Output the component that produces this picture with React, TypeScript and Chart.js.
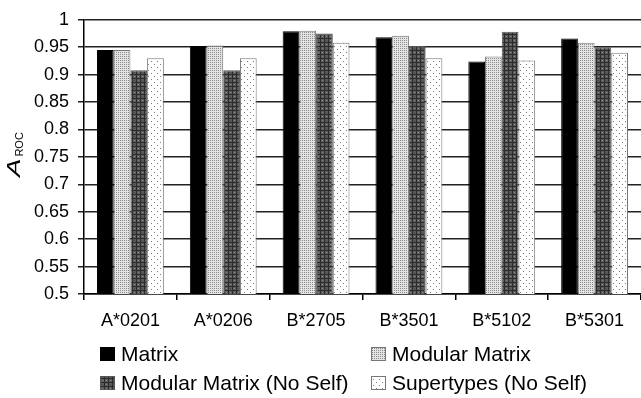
import React, { useEffect, useRef } from "react";
import { Chart, registerables } from "chart.js";

Chart.register(...registerables);

const categories = ["A*0201", "A*0206", "B*2705", "B*3501", "B*5102", "B*5301"];
const seriesLabels = ["Matrix", "Modular Matrix", "Modular Matrix (No Self)", "Supertypes (No Self)"];
const matrix = [0.945, 0.952, 0.979, 0.968, 0.924, 0.966];
const modularMatrix = [0.945, 0.953, 0.98, 0.971, 0.933, 0.958];
const modularNoSelf = [0.908, 0.908, 0.975, 0.952, 0.978, 0.95];
const supertypes = [0.93, 0.93, 0.958, 0.93, 0.926, 0.94];
const yMin = 0.5;
const yMax = 1;
const yStep = 0.05;

const FONT = '"Liberation Sans", Arial, Helvetica, sans-serif';

function makePattern(size: number, bg: string, pixels: [number, number, string][]) {
  const c = document.createElement("canvas");
  c.width = size;
  c.height = size;
  const g = c.getContext("2d")!;
  g.fillStyle = bg;
  g.fillRect(0, 0, size, size);
  pixels.forEach(([x, y, col]) => {
    g.fillStyle = col;
    g.fillRect(x, y, 1, 1);
  });
  return g.createPattern(c, "repeat")!;
}

function plaidPattern() {
  const c = document.createElement("canvas");
  c.width = 8;
  c.height = 8;
  const g = c.getContext("2d")!;
  g.fillStyle = "#5c5c5c";
  g.fillRect(0, 0, 8, 8);
  g.fillStyle = "#2c2c2c";
  g.fillRect(0, 0, 1, 8);
  g.fillRect(4, 0, 1, 8);
  g.fillRect(0, 2, 8, 1);
  g.fillRect(0, 6, 8, 1);
  g.fillStyle = "#8e8e8e";
  g.fillRect(2, 0, 1, 1);
  g.fillRect(6, 4, 1, 1);
  g.fillRect(2, 4, 1, 1);
  g.fillStyle = "#444";
  g.fillRect(6, 0, 1, 1);
  return g.createPattern(c, "repeat")!;
}

const yTitlePlugin = {
  id: "yTitle",
  afterDraw(chart: any) {
    const ctx = chart.ctx;
    ctx.save();
    ctx.translate(20, 177);
    ctx.rotate(-Math.PI / 2);
    ctx.fillStyle = "#000";
    ctx.textBaseline = "alphabetic";
    ctx.textAlign = "left";
    ctx.save();
    ctx.scale(1.45, 1);
    ctx.font = `italic 19px ${FONT}`;
    ctx.fillText("A", 0, 0);
    const w = ctx.measureText("A").width * 1.45;
    ctx.restore();
    ctx.font = `11px ${FONT}`;
    ctx.fillText("ROC", w + 2, 3);
    ctx.restore();
  },
};

const legendPlugin = {
  id: "customLegend",
  afterDraw(chart: any) {
    const ctx = chart.ctx;
    const pos = [
      [100, 354],
      [371, 354],
      [100, 383],
      [371, 383],
    ];
    ctx.save();
    ctx.font = `21px ${FONT}`;
    ctx.textBaseline = "middle";
    ctx.textAlign = "left";
    chart.data.datasets.forEach((ds: any, i: number) => {
      const [x, y] = pos[i];
      ctx.fillStyle = ds.backgroundColor;
      ctx.fillRect(x, y - 7, 15, 14);
      ctx.strokeStyle = ds.borderColor;
      ctx.lineWidth = 1;
      ctx.strokeRect(x + 0.5, y - 6.5, 14, 13);
      ctx.fillStyle = "#000";
      ctx.fillText(ds.label, x + 21, y + 1);
    });
    ctx.restore();
  },
};

export default function App() {
  const ref = useRef<HTMLCanvasElement>(null);

  useEffect(() => {
    const canvas = ref.current!;
    const lightStipple = makePattern(2, "#e4e4e4", [[0, 0, "#8a8a8a"]]);
    const plaid = plaidPattern();
    const sparse = makePattern(6, "#ffffff", [
      [1, 1, "#7a7a7a"],
      [4, 4, "#7a7a7a"],
    ]);

    const chart = new Chart(canvas, {
      type: "bar",
      data: {
        labels: categories,
        datasets: [
          { label: seriesLabels[0], data: matrix, backgroundColor: "#000000", borderColor: "#000000", borderWidth: 1 },
          { label: seriesLabels[1], data: modularMatrix, backgroundColor: lightStipple as any, borderColor: "#777777", borderWidth: 1 },
          { label: seriesLabels[2], data: modularNoSelf, backgroundColor: plaid as any, borderColor: "#555555", borderWidth: 1 },
          { label: seriesLabels[3], data: supertypes, backgroundColor: sparse as any, borderColor: "#777777", borderWidth: 1 },
        ],
      },
      options: {
        responsive: true,
        maintainAspectRatio: false,
        animation: false,
        devicePixelRatio: 1,
        layout: { padding: { top: 14, left: 0, right: 0, bottom: 0 } },
        datasets: { bar: { categoryPercentage: 0.72, barPercentage: 1.0 } },
        plugins: {
          legend: { display: false },
          tooltip: { enabled: false },
          title: { display: false },
        },
        scales: {
          x: {
            grid: { display: true, drawOnChartArea: false, drawTicks: true, tickLength: 6, color: "#000", lineWidth: 1.5, offset: true },
            border: { display: true, color: "#000", width: 1.5 },
            ticks: { color: "#000", font: { family: FONT, size: 18 }, padding: 10, maxRotation: 0, autoSkip: false },
            afterFit: (s: any) => {
              s.height = 104;
            },
          },
          y: {
            min: yMin,
            max: yMax,
            grid: { color: "#222", lineWidth: 1.5, tickLength: 6, drawTicks: true },
            border: { display: true, color: "#000", width: 1.5 },
            ticks: {
              stepSize: yStep,
              color: "#000",
              font: { family: FONT, size: 18 },
              padding: 9,
              callback: (v: any) => String(parseFloat(Number(v).toFixed(2))),
            },
            afterFit: (s: any) => {
              s.width = 84;
            },
          },
        },
      },
      plugins: [yTitlePlugin, legendPlugin],
    });
    return () => chart.destroy();
  }, []);

  return (
    <div style={{ position: "absolute", left: 0, top: 0, width: 641, height: 398, background: "#fff" }}>
      <canvas ref={ref} />
    </div>
  );
}
